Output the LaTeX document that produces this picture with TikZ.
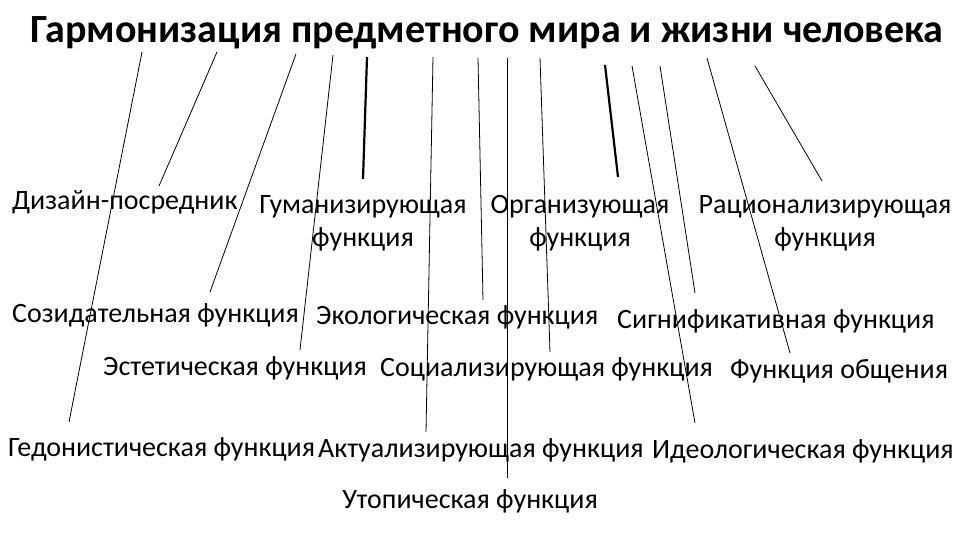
\documentclass[tikz,border=0pt]{standalone}
\usepackage{fontspec}
\setmainfont{Carlito}
\begin{document}
\begin{tikzpicture}[x=1pt,y=-1pt,
  lab/.style={inner sep=0pt,font=\fontsize{28}{33}\selectfont,align=center},
  thin/.style={line width=0.8pt},
  thick2/.style={line width=2.2pt}]
\useasboundingbox (0,0) rectangle (960,540);
\node[inner sep=0pt,font=\bfseries\fontsize{40}{44}\selectfont] (title) at (487,33) {Гармонизация предметного мира и жизни человека};
\node[lab,anchor=west] (dz) at (12,202) {Дизайн-посредник};
\node[lab] (gum) at (363,223) {Гуманизирующая\\функция};
\node[lab] (org) at (580,223) {Организующая\\функция};
\node[lab] (rac) at (825,223) {Рационализирующая\\функция};
\node[lab,anchor=west] (soz) at (12,315) {Созидательная функция};
\node[lab,anchor=west] (eko) at (316,317) {Экологическая функция};
\node[lab,anchor=west] (sig) at (617,321) {Сигнификативная функция};
\node[lab,anchor=west] (est) at (103,368) {Эстетическая функция};
\node[lab,anchor=west] (soc) at (380,369) {Социализирующая функция};
\node[lab,anchor=west] (obs) at (730,371) {Функция общения};
\node[lab,anchor=west] (ged) at (8,449) {Гедонистическая функция};
\node[lab,anchor=west] (akt) at (318,450) {Актуализирующая функция};
\node[lab,anchor=west] (ide) at (652,451) {Идеологическая функция};
\node[lab] (uto) at (470,501) {Утопическая функция};
\draw[thin] (142,52) -- (69,422);
\draw[thin] (217,52) -- (159,186);
\draw[thin] (296,54) -- (210,292);
\draw[thin] (333,55) -- (300,350);
\draw[thick2] (367,57) -- (363,179);
\draw[thin] (433,57) -- (426,432);
\draw[thin] (478,58) -- (483,300);
\draw[thin] (507,58) -- (507,478);
\draw[thin] (540,58) -- (550,352);
\draw[thick2] (605,65) -- (618,177);
\draw[thin] (632,66) -- (695,423);
\draw[thin] (660,66) -- (695,293);
\draw[thin] (707,58) -- (790,353);
\draw[thin] (755,66) -- (822,181);
\end{tikzpicture}
\end{document}
